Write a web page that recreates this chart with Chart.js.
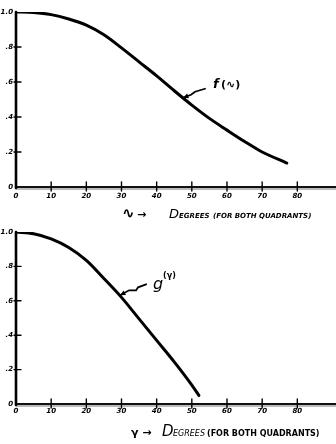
<!DOCTYPE html>
<html>
<head>
<meta charset="utf-8">
<script src="https://cdn.jsdelivr.net/npm/chart.js@4.4.0/dist/chart.umd.min.js"></script>
<style>
  html, body { margin: 0; padding: 0; background: #fff; }
  #wrap { position: relative; width: 336px; height: 444px; }
  .panel { position: absolute; left: 0; width: 336px; height: 222px; }
</style>
</head>
<body>
<div id="wrap">
  <div class="panel" style="top:0"><canvas id="c1" width="336" height="222"></canvas></div>
  <div class="panel" style="top:222px"><canvas id="c2" width="336" height="222"></canvas></div>
</div>
<script>
// ---- data ----
const fDegrees = [0, 5, 10, 15, 20, 25, 30, 35, 40, 45, 50, 55, 60, 65, 70, 77];
const fValues  = [1.0, 0.997, 0.985, 0.96, 0.925, 0.87, 0.795, 0.715, 0.635, 0.55, 0.468, 0.392, 0.325, 0.26, 0.20, 0.137];
const gDegrees = [0, 5, 10, 15, 20, 25, 30, 35, 40, 45, 50, 52];
const gValues  = [1.0, 0.99, 0.96, 0.91, 0.835, 0.73, 0.62, 0.495, 0.37, 0.245, 0.11, 0.05];
const xTickValues = [0, 10, 20, 30, 40, 50, 60, 70, 80];
const yTickValues = [0, 0.2, 0.4, 0.6, 0.8, 1.0];
const yTickLabels = ['0', '.2', '.4', '.6', '.8', '1.0'];

const HAND = '"DejaVu Sans", sans-serif';

function drawAxes(chart) {
  const ctx = chart.ctx, xs = chart.scales.x, ys = chart.scales.y;
  const x0 = xs.getPixelForValue(0), y0 = ys.getPixelForValue(0), y1 = ys.getPixelForValue(1);
  ctx.save();
  ctx.strokeStyle = '#111';
  ctx.lineCap = 'round';
  // x axis
  ctx.lineWidth = 2;
  ctx.beginPath(); ctx.moveTo(x0, y0); ctx.lineTo(chart.width, y0); ctx.stroke();
  ctx.lineWidth = 1;
  ctx.strokeStyle = '#777';
  ctx.beginPath(); ctx.moveTo(x0, y0 + 2); ctx.lineTo(chart.width, y0 + 2); ctx.stroke();
  // y axis
  ctx.strokeStyle = '#000';
  ctx.lineWidth = 2.6;
  ctx.beginPath(); ctx.moveTo(x0, y0 + 1); ctx.lineTo(x0, y1); ctx.stroke();
  // ticks
  ctx.lineWidth = 1.4;
  xTickValues.forEach(v => {
    if (v === 0) return;
    const px = xs.getPixelForValue(v);
    ctx.beginPath(); ctx.moveTo(px, y0 - 5); ctx.lineTo(px, y0 + 4); ctx.stroke();
  });
  yTickValues.forEach(v => {
    if (v === 0 || v === 1) return;
    const py = ys.getPixelForValue(v);
    ctx.beginPath(); ctx.moveTo(x0 - 2, py); ctx.lineTo(x0 + 5, py); ctx.stroke();
  });
  ctx.restore();
}

function drawPieces(ctx, pieces, baseline) {
  pieces.forEach(p => {
    ctx.font = p.font;
    ctx.fillText(p.text, p.x, baseline);
  });
}

const handPlugin = {
  id: 'hand',
  afterDatasetsDraw(chart, args, opts) {
    drawAxes(chart);
    const ctx = chart.ctx, xs = chart.scales.x, ys = chart.scales.y;
    ctx.save();
    ctx.fillStyle = '#000';
    ctx.strokeStyle = '#000';
    ctx.textBaseline = 'alphabetic';
    // annotation arrow
    const tx = xs.getPixelForValue(opts.anchorX), ty = ys.getPixelForValue(opts.anchorY);
    ctx.lineWidth = 1.8;
    ctx.lineCap = 'round';
    ctx.beginPath();
    ctx.moveTo(tx + opts.arrow[0][0], ty + opts.arrow[0][1]);
    for (let i = 1; i < opts.arrow.length; i++) ctx.lineTo(tx + opts.arrow[i][0], ty + opts.arrow[i][1]);
    ctx.stroke();
    // arrowhead
    const a = opts.arrow[opts.arrow.length - 2];
    const ang = Math.atan2(-a[1], -a[0]);
    ctx.beginPath();
    ctx.moveTo(tx, ty);
    ctx.lineTo(tx - 6 * Math.cos(ang - 0.45), ty - 6 * Math.sin(ang - 0.45));
    ctx.lineTo(tx - 6 * Math.cos(ang + 0.45), ty - 6 * Math.sin(ang + 0.45));
    ctx.closePath(); ctx.fill();
    // label
    opts.label.forEach(p => {
      ctx.font = p.font;
      ctx.fillText(p.text, tx + p.dx, ty + p.dy);
    });
    // axis title
    drawPieces(ctx, opts.title, opts.titleBaseline);
    ctx.restore();
  }
};

function makeChart(id, deg, vals, handOpts, padTop, xHeight, xPad) {
  return new Chart(document.getElementById(id), {
    type: 'line',
    data: {
      datasets: [{
        data: deg.map((d, i) => ({ x: d, y: vals[i] })),
        borderColor: '#000',
        borderWidth: 3,
        pointRadius: 0,
        cubicInterpolationMode: 'monotone',
        borderCapStyle: 'round',
        borderJoinStyle: 'round',
        fill: false
      }]
    },
    options: {
      responsive: false,
      animation: false,
      layout: { padding: { top: padTop, left: 0, right: 0, bottom: 0 } },
      plugins: { legend: { display: false }, tooltip: { enabled: false }, hand: handOpts },
      scales: {
        x: {
          type: 'linear', min: 0, max: 91,
          grid: { display: false, drawTicks: false }, border: { display: false },
          afterBuildTicks: s => { s.ticks = xTickValues.map(v => ({ value: v })); },
          afterFit: s => { s.height = xHeight; s.paddingLeft = 0; s.paddingRight = 0; },
          ticks: {
            maxRotation: 0, autoSkip: false, padding: xPad, color: '#000',
            font: { family: HAND, size: 7, style: 'italic', weight: 'bold' },
            callback: v => String(v)
          }
        },
        y: {
          min: 0, max: 1,
          grid: { display: false, drawTicks: false }, border: { display: false },
          afterBuildTicks: s => { s.ticks = yTickValues.map(v => ({ value: v })); },
          afterFit: s => { s.width = 16; },
          ticks: {
            padding: 3, color: '#000',
            font: { family: HAND, size: 7, style: 'italic', weight: 'bold' },
            callback: v => yTickLabels[yTickValues.findIndex(t => Math.abs(t - v) < 1e-6)]
          }
        }
      }
    },
    plugins: [handPlugin]
  });
}

makeChart('c1', fDegrees, fValues, {
  anchorX: 47.5, anchorY: 0.51,
  arrow: [[22, -9], [12, -6], [8, -3], [0, 0]],
  label: [
    { text: 'f', dx: 30, dy: -10, font: 'bold italic 13px ' + HAND },
    { text: '(∿)', dx: 38, dy: -10, font: 'bold 11px ' + HAND }
  ],
  title: [
    { text: '∿', x: 122, font: 'bold 15px ' + HAND },
    { text: '→', x: 137, font: 'bold 11px ' + HAND },
    { text: 'D', x: 169, font: 'italic 13px ' + HAND },
    { text: 'EGREES', x: 179, font: 'bold italic 7px ' + HAND },
    { text: '(FOR BOTH QUADRANTS)', x: 213, font: 'bold italic 7px ' + HAND }
  ],
  titleBaseline: 218
}, 12, 35, 5);

makeChart('c2', gDegrees, gValues, {
  anchorX: 29.6, anchorY: 0.632,
  arrow: [[26, -11], [18, -8], [16, -5], [9, -5], [0, 0]],
  label: [
    { text: 'g', dx: 33, dy: -6, font: 'italic 16px ' + HAND },
    { text: '(γ)', dx: 43, dy: -17, font: 'bold 8px ' + HAND }
  ],
  title: [
    { text: 'γ →', x: 131, font: 'bold 11px ' + HAND },
    { text: 'D', x: 162, font: 'italic 15px ' + HAND },
    { text: 'EGREES', x: 173, font: 'italic 8px ' + HAND },
    { text: '(FOR BOTH QUADRANTS)', x: 207, font: 'bold 8px ' + HAND }
  ],
  titleBaseline: 214
}, 10, 40, 3);
</script>
</body>
</html>
